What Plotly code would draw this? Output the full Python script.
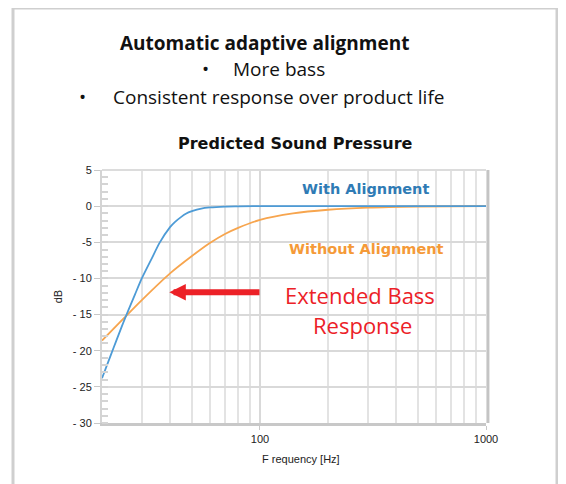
import numpy as np
import plotly.graph_objects as go

# ---- data ----
freq_with = [20, 22, 25, 28, 30, 33, 36, 40, 42, 45, 47, 50, 55, 60, 70, 80, 100, 1000]
db_with = [-23.8, -20.4, -15.9, -12.2, -10.0, -7.4, -5.05, -2.9, -2.2, -1.45, -1.05, -0.7,
           -0.33, -0.18, -0.06, -0.03, 0.0, 0.0]

freq_without = [20, 25, 30, 40, 50, 60, 70, 80, 100, 140, 200, 300, 500, 1000]
db_without = [-18.6, -15.5, -13.0, -9.3, -6.9, -5.1, -3.85, -3.0, -1.9, -1.0, -0.5, -0.2, -0.05, 0.0]

y_ticks = [5, 0, -5, -10, -15, -20, -25, -30]
y_ticktext = ["5", "0", "-5", "- 10", "- 15", "- 20", "- 25", "- 30"]
x_ticks = [100, 1000]
x_ticktext = ["100", "1000"]
x_minor = [30, 40, 50, 60, 70, 80, 90, 200, 300, 400, 500, 600, 700, 800, 900]

# page body has an 8px margin, so the figure is drawn 8px in from the corner
OFF = 8
W, H = 566 - OFF, 484 - OFF
L, R, T, B = 102 - OFF, 566 - 486, 170 - OFF, 484 - 423
PW, PH = W - L - R, H - T - B


def px(xp):
    return (xp - OFF - L) / PW


def py(yp):
    return (H - B - (yp - OFF)) / PH


GRID = "#d9d9d9"
BLUE = "#4d9bd6"
ORANGE = "#f7a54e"
RED = "#ec2127"
TITLE_FONT = "Open Sans"
CHART_FONT = "DejaVu Sans"
AX_FONT = "Liberation Sans"

fig = go.Figure()
fig.add_trace(go.Scatter(x=freq_without, y=db_without, mode="lines",
                         line=dict(color=ORANGE, width=1.8, shape="spline", smoothing=0.7),
                         name="Without Alignment", hoverinfo="skip"))
fig.add_trace(go.Scatter(x=freq_with, y=db_with, mode="lines",
                         line=dict(color=BLUE, width=1.8, shape="spline", smoothing=0.7),
                         name="With Alignment", hoverinfo="skip"))

fig.update_layout(
    width=W, height=H,
    margin=dict(l=L, r=R, t=T, b=B, pad=0),
    paper_bgcolor="white", plot_bgcolor="white",
    showlegend=False,
    font=dict(family=AX_FONT, size=11, color="#222"),
)

fig.update_xaxes(
    type="log", range=[np.log10(20), 3],
    tickvals=x_ticks, ticktext=x_ticktext,
    ticks="outside", ticklen=4, tickcolor="#c8c8c8", tickwidth=1,
    showgrid=True, gridcolor=GRID, gridwidth=2,
    minor=dict(tickvals=x_minor, showgrid=True, gridcolor="#e3e3e3", gridwidth=2, ticks=""),
    showline=True, linecolor="#c8c8c8", linewidth=3,
    zeroline=False,
    tickfont=dict(family=AX_FONT, size=11, color="#222"),
)
fig.update_yaxes(
    range=[-30, 5],
    tickvals=y_ticks, ticktext=y_ticktext,
    ticks="outside", ticklen=6, tickcolor="#c8c8c8", tickwidth=1,
    showgrid=True, gridcolor=GRID, gridwidth=2,
    minor=dict(dtick=1, ticks="inside", ticklen=6, tickcolor="#d4d4d4", tickwidth=1.5, showgrid=False),
    showline=True, linecolor="#d4d4d4", linewidth=2,
    zeroline=False,
    tickfont=dict(family=AX_FONT, size=11, color="#222"),
    title=dict(text="dB", font=dict(family=AX_FONT, size=11, color="#222"), standoff=8),
)

# frame and borders
fig.add_shape(type="rect", xref="paper", yref="paper",
              x0=px(13), x1=px(557), y0=py(500), y1=py(8),
              line=dict(color="#cfcfcf", width=3), fillcolor="rgba(0,0,0,0)", layer="below")
fig.add_shape(type="line", xref="paper", yref="paper",
              x0=1.005, x1=1.005, y0=0, y1=1, line=dict(color="#c4c4c4", width=3))
fig.add_shape(type="line", xref="paper", yref="paper",
              x0=0, x1=1, y0=1, y1=1, line=dict(color="#dcdcdc", width=2))

ann = []
# header text
ann.append(dict(text="<b>Automatic adaptive alignment</b>", x=px(264), y=py(43),
                font=dict(family=TITLE_FONT, size=19, color="#111")))
ann.append(dict(text="•", x=px(205), y=py(69), font=dict(family=TITLE_FONT, size=19, color="#111")))
ann.append(dict(text="More bass", x=px(279), y=py(69), font=dict(family=TITLE_FONT, size=19, color="#111")))
ann.append(dict(text="•", x=px(82), y=py(97), font=dict(family=TITLE_FONT, size=19, color="#111")))
ann.append(dict(text="Consistent response over product life", x=px(278.5), y=py(97),
                font=dict(family=TITLE_FONT, size=19, color="#111")))
ann.append(dict(text="<b>Predicted Sound Pressure</b>", x=px(295), y=py(144),
                font=dict(family=CHART_FONT, size=16, color="#111")))
# series labels
ann.append(dict(text="<b>With Alignment</b>", x=px(365), y=py(189),
                font=dict(family=CHART_FONT, size=14.5, color="#2f7bb5")))
ann.append(dict(text="<b>Without Alignment</b>", x=px(366), y=py(249),
                font=dict(family=CHART_FONT, size=14.5, color="#f59a38")))
ann.append(dict(text="Extended Bass", x=px(360), y=py(295),
                font=dict(family=TITLE_FONT, size=22, color=RED)))
ann.append(dict(text="Response", x=px(362), y=py(325),
                font=dict(family=TITLE_FONT, size=22, color=RED)))
ann.append(dict(text="F requency [Hz]", x=px(301), y=py(459),
                font=dict(family=AX_FONT, size=11, color="#222")))
for a in ann:
    a.update(xref="paper", yref="paper", showarrow=False, xanchor="center", yanchor="middle")

# arrow
ann.append(dict(x=np.log10(39.7), y=-11.9, ax=np.log10(101), ay=-11.9,
                xref="x", yref="y", axref="x", ayref="y", text="",
                showarrow=True, arrowhead=2, arrowsize=0.55, arrowwidth=6, arrowcolor=RED))

fig.update_layout(annotations=ann)
fig.write_html("out.html")
